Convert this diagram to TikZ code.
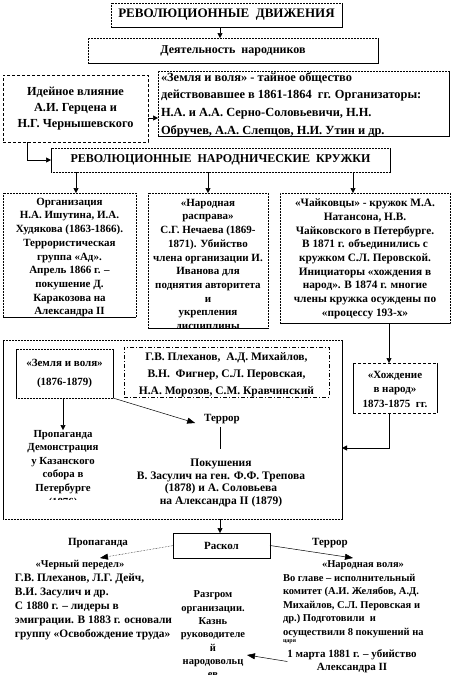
\documentclass[tikz,border=0pt]{standalone}
\usepackage{fontspec}
\setmainfont{Liberation Serif}
\usetikzlibrary{arrows.meta,calc}
\begin{document}
\begin{tikzpicture}[x=1pt,y=-1pt,
  every node/.style={inner sep=0pt, outer sep=0pt},
  bodytxt/.style={font=\bfseries\fontsize{10.5}{13.7}\selectfont, align=center},
  boxtxt/.style={font=\bfseries\fontsize{11}{13.7}\selectfont, align=center},
  lefttxt/.style={bodytxt, align=left},
  dotbox/.style={draw, densely dotted, line width=0.5pt, rectangle},
  dashbox/.style={draw, dash pattern=on 3pt off 2pt, line width=0.5pt, rectangle},
  dashdotbox/.style={draw, dash pattern=on 4pt off 2pt on 1pt off 2pt, line width=0.5pt, rectangle},
  solidbox/.style={draw, line width=0.6pt, rectangle},
  shadowline/.style={line width=1pt},
  sideline/.style={line width=0.6pt},
  arr/.style={-{Triangle[length=5pt,width=5pt]}, line width=0.5pt},
  plainline/.style={line width=0.5pt},
]
\useasboundingbox (0,0) rectangle (451,681);
\fill[white] (0,0) rectangle (451,681);

\coordinate (x27) at (27,0);
\coordinate (x63) at (63,0);
\coordinate (x76) at (76,0);
\coordinate (x208) at (208,0);
\coordinate (x220) at (220,0);
\coordinate (x353) at (353,0);
\coordinate (x389) at (389,0);
\coordinate (y118) at (0,118);
\coordinate (y448) at (0,448);

% title
\node[dotbox, minimum width=231, minimum height=24, font=\bfseries\fontsize{13}{15}\selectfont] (title) at (226.5,15) {РЕВОЛЮЦИОННЫЕ\ \ ДВИЖЕНИЯ};
\draw[shadowline] (title.north east) -- (title.south east) -- (title.south west);

\node[dotbox, minimum width=290, minimum height=25, font=\bfseries\fontsize{12}{14}\selectfont] (act) at (233,50.5) {Деятельность\ \ народников};
\draw[shadowline] (act.north east) -- (act.south east) -- (act.south west);
\draw[arr] (title.south -| x220) -- (act.north -| x220);

% ideas
\node[dashbox, minimum width=145, minimum height=67, align=center, font=\bfseries\fontsize{12.3}{16}\selectfont] (ideas) at (75.5,108.5) {Идейное влияние\\А.И. Герцена и\\Н.Г. Чернышевского};

\node[dotbox, minimum width=291, minimum height=65] (zv1) at (303.5,103.5) {};
\draw[shadowline] (zv1.north east) -- (zv1.south east) -- (zv1.south west);
\node[lefttxt, font=\bfseries\fontsize{12.4}{17.6}\selectfont, anchor=west] (zv1text) at (161,104.5) {«Земля и воля» - тайное общество\\действовавшее в 1861-1864\ \ гг. Организаторы:\\Н.А. и А.А. Серно-Соловьевичи, Н.Н.\\Обручев, А.А. Слепцов, Н.И. Утин и др.};
\draw[arr] (ideas.east |- y118) -- (zv1.west |- y118);

% kruzhki
\node[dotbox, minimum width=339, minimum height=24, font=\bfseries\fontsize{12}{14}\selectfont] (kruzhki) at (220.5,160) {РЕВОЛЮЦИОННЫЕ\ \ НАРОДНИЧЕСКИЕ\ \ КРУЖКИ};
\draw[sideline] (kruzhki.north west) -- (kruzhki.south west) (kruzhki.north east) -- (kruzhki.south east);
\draw[arr] (ideas.south -| x27) |- (kruzhki.west);

% three boxes
\node[dotbox, minimum width=133, minimum height=124] (boxA) at (69.5,255) {};
\node[dotbox, minimum width=120, minimum height=135] (boxB) at (208,260.5) {};
\node[dotbox, minimum width=170, minimum height=130] (boxC) at (365,258) {};
\draw[sideline] (boxA.south west) -- (boxA.south east) (boxB.south west) -- (boxB.south east) (boxC.south west) -- (boxC.south east);
\draw[arr] (kruzhki.south -| x76) -- (boxA.north -| x76);
\draw[arr] (kruzhki.south -| x208) -- (boxB.north -| x208);
\draw[arr] (kruzhki.south -| x353) -- (boxC.north -| x353);

\begin{scope}
\clip (boxA.north west) rectangle (boxA.south east);
\node[boxtxt, anchor=north] (textA) at (69.5,198) {Организация\\Н.А. Ишутина, И.А.\\Худякова (1863-1866).\\Террористическая\\группа «Ад».\\Апрель 1866 г. –\\покушение Д.\\Каракозова на\\Александра II};
\end{scope}
\begin{scope}
\clip (boxB.north west) rectangle (boxB.south east);
\node[boxtxt, anchor=north] (textB) at (208,199) {«Народная\\расправа»\\С.Г. Нечаева (1869-\\1871). Убийство\\члена организации И.\\Иванова для\\поднятия авторитета\\и\\укрепления\\дисциплины};
\end{scope}
\node[boxtxt, font=\bfseries\fontsize{11.3}{13.7}\selectfont, anchor=north] (textC) at (365,199) {«Чайковцы» - кружок М.А.\\Натансона, Н.В.\\Чайковского в Петербурге.\\В 1871 г. объединились с\\кружком С.Л. Перовской.\\Инициаторы «хождения в\\народ». В 1874 г. многие\\члены кружка осуждены по\\«процессу 193-х»};

% big container
\node[dotbox, minimum width=339, minimum height=179] (zv2) at (172.5,429.5) {};
\draw[sideline] (zv2.north west) -- (zv2.south west) (zv2.north east) -- (zv2.south east);

\node[dotbox, minimum width=97, minimum height=49, align=center, font=\bfseries\fontsize{11}{19}\selectfont] (zvbox) at (64.5,373.5) {«Земля и воля»\\(1876-1879)};
\draw[sideline] (zvbox.north west) -- (zvbox.south west) (zvbox.north east) -- (zvbox.south east);

\node[dashdotbox, minimum width=205, minimum height=50] (names) at (226.5,372) {};
\node[bodytxt, font=\bfseries\fontsize{11.5}{17}\selectfont] (namestext) at (226.5,375) {Г.В. Плеханов,\ \ А.Д. Михайлов,\\В.Н.\ \ Фигнер, С.Л. Перовская,\\Н.А. Морозов, С.М. Кравчинский};

\node[dashbox, minimum width=84, minimum height=50] (hozh) at (395,388) {};
\draw[sideline] (hozh.north west) -- (hozh.south west) (hozh.north east) -- (hozh.south east);
\node[bodytxt, font=\bfseries\fontsize{11}{14.5}\selectfont] (hozhtext) at (395,389) {«Хождение\\в народ»\\1873-1875\ \ гг.};
\draw[arr] (boxC.south -| x389) -- (hozh.north -| x389);
\draw[arr] (hozh.south -| x389) |- (zv2.east |- y448);

\begin{scope}
\clip (12,424) rectangle (118,499);
\node[bodytxt, anchor=north, font=\bfseries\fontsize{10.8}{13.6}\selectfont] (propT) at (63,430) {Пропаганда\\Демонстрация\\у Казанского\\собора в\\Петербурге\\(1876)};
\end{scope}
\draw[arr] (zvbox.south -| x63) -- (propT.north -| x63);

\node[bodytxt, font=\bfseries\fontsize{11}{13}\selectfont] (terror1) at (222,419) {Террор};
\draw[plainline, -{Triangle[length=8pt,width=6pt]}] (zvbox.south east) -- ($(terror1.west)+(-9,4)$);
\node[bodytxt, anchor=north, font=\bfseries\fontsize{11.5}{12.6}\selectfont] (pokush) at (221,459) {Покушения\\В. Засулич на ген. Ф.Ф. Трепова\\(1878) и А. Соловьева\\на Александра II (1879)};
\draw[plainline, shorten <=3pt, shorten >=10pt] (terror1.south -| x220) -- (pokush.north -| x220);

% split
\node[solidbox, minimum width=97, minimum height=25, font=\bfseries\fontsize{11}{13}\selectfont] (raskol) at (221.5,545.5) {Раскол};
\draw[plainline, densely dotted] (raskol.south west) -- (raskol.south east);
\draw[arr] (zv2.south -| x220) -- (raskol.north -| x220);

\node[bodytxt, font=\bfseries\fontsize{11}{13}\selectfont] (lblP) at (98,543) {Пропаганда};
\node[bodytxt, font=\bfseries\fontsize{11}{13}\selectfont] (lblT) at (330,543) {Террор};
\coordinate (chpA) at (100,558);
\coordinate (nvA) at (353,558);
\draw[plainline, densely dotted, -{Triangle[length=8pt,width=6pt]}] (raskol.west) -- (chpA);
\draw[plainline, -{Triangle[length=8pt,width=6pt]}] (raskol.east) -- (nvA);

\node[bodytxt] (chpT) at (80,565) {«Черный передел»};
\node[lefttxt, anchor=north west, font=\bfseries\fontsize{11.4}{14}\selectfont] (chpX) at (15,574) {Г.В. Плеханов, Л.Г. Дейч,\\В.И. Засулич и др.\\С 1880 г. – лидеры в\\эмиграции. В 1883 г. основали\\группу «Освобождение труда»};

\begin{scope}
\clip (170,585) rectangle (258,674);
\node[bodytxt, anchor=north, font=\bfseries\fontsize{10.5}{13.3}\selectfont] (razgrom) at (213,591) {Разгром\\организации.\\Казнь\\руководителе\\й\\народовольц\\ев};
\end{scope}

\node[bodytxt] (nvT) at (363,565) {«Народная воля»};
\node[lefttxt, anchor=north west, font=\bfseries\fontsize{10.5}{13.5}\selectfont] (nvX) at (283,574) {Во главе – исполнительный\\комитет (А.И. Желябов, А.Д.\\Михайлов, С.Л. Перовская и\\др.)\ Подготовили\ \ и\\осуществили 8 покушений на};
\node[font=\bfseries\fontsize{6}{7}\selectfont, anchor=north west] (nvTsar) at (283,640) {царя};
\node[bodytxt, font=\bfseries\fontsize{11}{13}\selectfont] (murder) at (352,661.5) {1 марта 1881 г. – убийство\\Александра II};
\coordinate (rzTip) at (247,655);
\draw[plainline, -{Triangle[length=8pt,width=6pt]}] (murder.west) -- (rzTip);
\end{tikzpicture}
\end{document}
